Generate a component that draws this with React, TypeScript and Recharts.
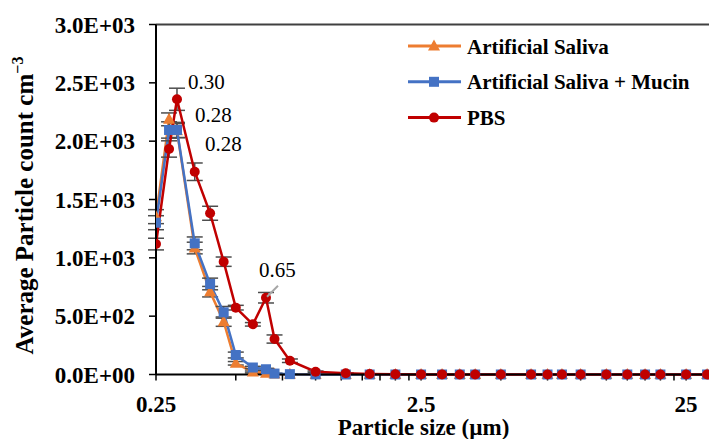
import React from "react";
import { ErrorBar, LabelList, Legend, Line, LineChart, ReferenceLine, XAxis, YAxis } from "recharts";

const FONT = "Liberation Serif, Times New Roman, serif";
const ORANGE = "#ED7D31";
const BLUE = "#4472C4";
const RED = "#C00000";

// particle size channels (µm)
const sizes = [0.25, 0.28, 0.3, 0.35, 0.4, 0.45, 0.5, 0.58, 0.65, 0.7, 0.8, 1.0, 1.3, 1.6, 2.0, 2.5, 3.0, 3.5, 4.0, 5.0, 6.5, 7.5, 8.5, 10, 12.5, 15, 17.5, 20, 25, 30];

const artificialSaliva = [1353, 2187, 2090, 1084, 710, 453, 96, 22, 10, 4, 2, 1, 0, 0, 0, 0, 0, 0, 0, 0, 0, 0, 0, 0, 0, 0, 0, 0, 0, 0];
const artificialSalivaErr = [60, 55, 60, 50, 45, 40, 15, 8, 5, 3, 1, 0, 0, 0, 0, 0, 0, 0, 0, 0, 0, 0, 0, 0, 0, 0, 0, 0, 0, 0];
const salivaMucin = [1301, 2096, 2096, 1124, 776, 533, 167, 60, 45, 8, 3, 1, 0, 0, 0, 0, 0, 0, 0, 0, 0, 0, 0, 0, 0, 0, 0, 0, 0, 0];
const salivaMucinErr = [60, 70, 65, 55, 50, 50, 25, 10, 8, 3, 1, 0, 0, 0, 0, 0, 0, 0, 0, 0, 0, 0, 0, 0, 0, 0, 0, 0, 0, 0];
const pbs = [1118, 1933, 2359, 1738, 1382, 967, 573, 430, 658, 304, 118, 24, 10, 4, 2, 1, 1, 0, 0, 0, 0, 0, 0, 0, 0, 0, 0, 0, 0, 0];
const pbsErr = [50, 70, 95, 75, 60, 40, 20, 15, 45, 35, 15, 6, 3, 1, 0, 0, 0, 0, 0, 0, 0, 0, 0, 0, 0, 0, 0, 0, 0, 0];

const majorTicks = [0.25, 2.5, 25];
const minorTicks = [0.5, 0.75, 1, 1.25, 1.5, 1.75, 2, 2.25, 5, 7.5, 10, 12.5, 15, 17.5, 20, 22.5];
const yTicks = [0, 500, 1000, 1500, 2000, 2500, 3000];

const data = sizes.map((x, i) => ({
  x,
  as: artificialSaliva[i],
  asErr: artificialSalivaErr[i],
  asm: salivaMucin[i],
  asmErr: salivaMucinErr[i],
  pbs: pbs[i],
  pbsErr: pbsErr[i],
}));

const fmtExp = (v: number) => {
  if (v === 0) return "0.0E+00";
  const e = Math.floor(Math.log10(v));
  return `${(v / Math.pow(10, e)).toFixed(1)}E+${String(e).padStart(2, "0")}`;
};

const triangle = (cx: number, cy: number, color: string) => (
  <path d={`M${cx},${cy - 6.5}L${cx + 6},${cy + 4.5}L${cx - 6},${cy + 4.5}Z`} fill={color} />
);
const square = (cx: number, cy: number, color: string) => (
  <rect x={cx - 5} y={cy - 5} width={10} height={10} fill={color} />
);
const circle = (cx: number, cy: number, color: string) => <circle cx={cx} cy={cy} r={5} fill={color} />;

const shapes = [triangle, square, circle];

function XTick(props: any) {
  const { x, y, payload } = props;
  if (!majorTicks.includes(payload.value)) return <g />;
  return (
    <text x={x} y={y} dy={29} textAnchor="middle" fontFamily={FONT} fontWeight={700} fontSize={23} fill="#000">
      {payload.value}
    </text>
  );
}

function XTitle(props: any) {
  const { viewBox } = props;
  return (
    <text x={viewBox.x + viewBox.width / 2 - 9} y={435} textAnchor="middle" fontFamily={FONT} fontWeight={700} fontSize={23} fill="#000">
      Particle size (µm)
    </text>
  );
}

function YTitle(props: any) {
  const { viewBox } = props;
  const x = viewBox.x + 33;
  const y = viewBox.y + viewBox.height / 2 + 6;
  return (
    <text x={x} y={y} transform={`rotate(-90 ${x} ${y})`} textAnchor="middle" fontFamily={FONT} fontWeight={700} fontSize={25} fill="#000">
      Average Particle count cm<tspan dy={-10} fontSize={16}>−3</tspan>
    </text>
  );
}

const note = (index: number, text: string, dx: number, dy: number, leader = false) => (p: any) => {
  if (p.index !== index) return null;
  return (
    <g>
      {leader && <line x1={p.x + 1} y1={p.y - 1} x2={p.x + 12} y2={p.y - 12} stroke="#a6a6a6" strokeWidth={2} />}
      <text x={p.x + dx} y={p.y + dy} fontFamily={FONT} fontSize={21} fill="#000">
        {text}
      </text>
    </g>
  );
};

function LegendBox(props: any) {
  const { payload = [] } = props;
  return (
    <svg width={300} height={110}>
      {payload.map((it: any, i: number) => {
        const cy = 16 + i * 35.8;
        return (
          <g key={i}>
            <line x1={8} x2={61} y1={cy} y2={cy} stroke={it.color} strokeWidth={3} />
            {shapes[i](34, cy, it.color)}
            <text x={67} y={cy + 7.6} fontFamily={FONT} fontWeight={700} fontSize={21} fill="#000">
              {it.value}
            </text>
          </g>
        );
      })}
    </svg>
  );
}

export default function App() {
  return (
    <div style={{ position: "fixed", left: 0, top: 0, width: 709, height: 439, overflow: "hidden", background: "#fff" }}>
      <LineChart width={709} height={439} data={data} margin={{ top: 24.5, right: 0, bottom: 0, left: 0 }}>
        <XAxis
          dataKey="x"
          type="number"
          scale="log"
          domain={[0.25, 30.5]}
          allowDataOverflow
          ticks={[...majorTicks, ...minorTicks]}
          interval={0}
          height={64.5}
          tickSize={6}
          tick={<XTick />}
          axisLine={{ stroke: "#000", strokeWidth: 2 }}
          tickLine={{ stroke: "#000", strokeWidth: 1.5 }}
          label={{ content: <XTitle /> }}
        />
        <YAxis
          type="number"
          domain={[0, 3000]}
          ticks={yTicks}
          interval={0}
          width={156}
          tickSize={7}
          tickMargin={14}
          tickFormatter={fmtExp}
          tick={{ fontFamily: FONT, fontWeight: 700, fontSize: 23, fill: "#000" }}
          axisLine={{ stroke: "#000", strokeWidth: 2 }}
          tickLine={{ stroke: "#000", strokeWidth: 1.5 }}
          label={{ content: <YTitle /> }}
        />
        <ReferenceLine y={3000} stroke="#404040" strokeWidth={2} />
        <Legend
          layout="vertical"
          align="center"
          verticalAlign="middle"
          content={<LegendBox />}
          wrapperStyle={{ position: "absolute", left: 400, top: 30, width: 300 }}
        />
        <Line
          dataKey="as"
          name="Artificial Saliva"
          stroke={ORANGE}
          strokeWidth={2.5}
          isAnimationActive={false}
          dot={(p: any) => <g key={`a${p.index}`}>{triangle(p.cx, p.cy, ORANGE)}</g>}
        >
          <ErrorBar dataKey="asErr" width={8} stroke="#4d4d4d" strokeWidth={1.5} isAnimationActive={false} />
          <LabelList dataKey="as" content={note(1, "0.28", 26, 3)} />
        </Line>
        <Line
          dataKey="asm"
          name="Artificial Saliva + Mucin"
          stroke={BLUE}
          strokeWidth={2.5}
          isAnimationActive={false}
          dot={(p: any) => <g key={`b${p.index}`}>{square(p.cx, p.cy, BLUE)}</g>}
        >
          <ErrorBar dataKey="asmErr" width={8} stroke="#4d4d4d" strokeWidth={1.5} isAnimationActive={false} />
          <LabelList dataKey="asm" content={note(2, "0.28", 28, 21)} />
        </Line>
        <Line
          dataKey="pbs"
          name="PBS"
          stroke={RED}
          strokeWidth={2.5}
          isAnimationActive={false}
          dot={(p: any) => <g key={`c${p.index}`}>{circle(p.cx, p.cy, RED)}</g>}
        >
          <ErrorBar dataKey="pbsErr" width={8} stroke="#4d4d4d" strokeWidth={1.5} isAnimationActive={false} />
          <LabelList dataKey="pbs" content={note(2, "0.30", 11, -10)} />
          <LabelList dataKey="pbs" content={note(8, "0.65", -7, -21, true)} />
        </Line>
      </LineChart>
    </div>
  );
}
